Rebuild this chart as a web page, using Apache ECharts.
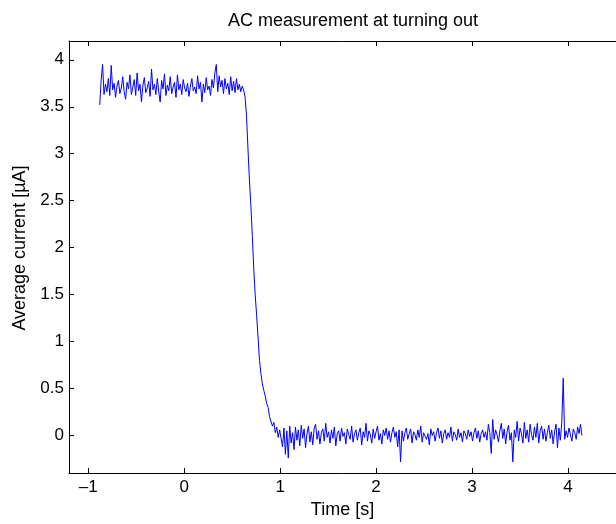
<!DOCTYPE html>
<html>
<head>
<meta charset="utf-8">
<script src="https://cdn.jsdelivr.net/npm/echarts@6/dist/echarts.min.js"></script>
<style>
html,body{margin:0;padding:0;background:#fff;}
#chart{width:616px;height:524px;}
</style>
</head>
<body>
<div id="chart"></div>
<script>
// Sampling of the recorded signal
const T_START = -0.88;   // s, first sample
const T_STEP = 0.015;    // s, sample spacing

// Signal values [µA]
const highLevel = [
  3.52,3.78,3.95,3.63,3.74,3.66,3.80,3.62,3.94,3.68,
  3.75,3.60,3.72,3.78,3.64,3.70,3.82,3.66,3.58,3.76,
  3.69,3.84,3.63,3.71,3.79,3.62,3.86,3.67,3.74,3.55,
  3.73,3.81,3.65,3.70,3.77,3.61,3.90,3.68,3.74,3.63,
  3.80,3.66,3.55,3.78,3.69,3.85,3.62,3.73,3.67,3.82,
  3.64,3.71,3.76,3.60,3.84,3.68,3.74,3.63,3.79,3.70,
  3.66,3.75,3.61,3.72,3.80,3.67,3.71,3.64,3.83,3.69,
  3.76,3.55,3.74,3.65,3.81,3.68,3.72,3.62,3.79,3.70,
  3.86,3.95,3.66,3.83,3.71,3.78,3.64,3.80,3.69,3.75,
  3.63,3.82,3.67,3.77,3.65,3.80,3.68,3.74,3.66,3.72,
  3.68
];
const transition = [
  3.60,3.40,3.05,2.72,2.45,2.13,1.78,1.50,1.28,1.05,
  0.80,0.66,0.55,0.48,0.42,0.34,0.30,0.20,0.22,0.10,
  0.14,0.03,0.09,-0.02,0.06
];
const lowLevel = [
  0.04,-0.12,0.08,-0.20,0.05,-0.24,0.10,-0.08,0.03,-0.15,
  0.09,-0.05,0.06,-0.11,0.11,-0.03,0.07,-0.13,0.02,0.10,
  -0.07,0.04,-0.10,0.08,0.12,-0.04,0.05,-0.09,0.03,0.07,
  -0.06,0.13,-0.02,0.04,-0.08,0.06,-0.03,0.09,-0.11,0.02,
  0.05,-0.06,0.08,-0.01,0.03,-0.09,0.07,0.01,-0.04,0.10,
  -0.07,0.02,0.06,-0.05,0.03,0.08,-0.10,0.04,-0.02,0.13,
  -0.06,0.05,0.01,-0.08,0.07,-0.03,0.04,0.10,-0.05,0.02,
  -0.09,0.06,0.00,0.08,-0.04,0.05,-0.07,0.03,0.09,-0.02,
  0.04,-0.12,0.06,-0.28,0.05,-0.06,0.03,0.08,-0.04,0.02,
  0.07,-0.08,0.04,0.01,-0.05,0.06,-0.02,0.10,-0.07,0.03,
  0.05,-0.04,0.02,-0.10,0.07,0.00,0.04,-0.06,0.03,0.08,
  -0.03,0.05,-0.08,0.02,0.06,-0.04,0.03,-0.02,0.09,-0.06,
  0.04,0.01,-0.05,0.07,-0.02,0.03,-0.07,0.05,0.02,-0.04,
  0.06,-0.01,0.04,-0.06,0.03,0.08,-0.03,0.05,-0.07,0.02,
  0.06,-0.02,0.04,-0.05,0.12,0.03,-0.19,0.17,-0.04,0.06,
  0.01,-0.07,0.05,0.13,-0.03,0.07,-0.09,0.04,0.11,-0.05,
  0.03,-0.28,0.06,-0.02,0.15,-0.06,0.08,0.02,-0.08,0.14,
  -0.03,0.06,-0.07,0.12,0.01,-0.05,0.09,-0.02,0.13,-0.08,
  0.05,0.10,-0.04,0.07,-0.06,0.03,0.11,-0.03,0.06,-0.09,
  0.04,0.12,-0.13,0.08,-0.05,0.14,0.61,-0.04,0.05,-0.02,
  0.08,0.01,-0.06,0.07,0.03,-0.04,0.09,0.02,0.12,0.00
];

// Axis ticks
const xTicks = [-1, 0, 1, 2, 3, 4];
const yTicks = [0, 0.5, 1, 1.5, 2, 2.5, 3, 3.5, 4];
const xRange = [-1.2, 4.5];
const yRange = [-0.4, 4.2];

const titleText = 'AC measurement at turning out';
const xName = 'Time [s]';
const yName = 'Average current [µA]';

const values = highLevel.concat(transition, lowLevel);
const seriesData = values.map((v, i) => [+(T_START + i * T_STEP).toFixed(4), v]);

const FONT = '"Liberation Sans", Arial, Helvetica, sans-serif';
const fmt = v => String(v).replace('-', '\u2013');

const chart = echarts.init(document.getElementById('chart'), null, {renderer: 'canvas'});
chart.setOption({
  animation: false,
  backgroundColor: '#ffffff',
  title: {
    text: titleText,
    left: 348,
    textAlign: 'center',
    top: 7,
    textStyle: {fontFamily: FONT, fontSize: 18, fontWeight: 'normal', color: '#000'}
  },
  grid: {left: 69, top: 41, width: 554.4, height: 437, containLabel: false},
  xAxis: [{
    type: 'value', position: 'bottom', min: xRange[0], max: xRange[1],
    name: xName, nameLocation: 'middle', nameGap: 19,
    nameTextStyle: {fontFamily: FONT, fontSize: 18, color: '#000'},
    axisLine: {show: true, onZero: false, lineStyle: {color: '#000', width: 1}},
    axisTick: {show: true, inside: true, length: 5, customValues: xTicks, lineStyle: {color: '#000'}},
    axisLabel: {show: true, customValues: xTicks, formatter: fmt, margin: 6,
      fontFamily: FONT, fontSize: 17, color: '#000'},
    splitLine: {show: false}
  }, {
    type: 'value', position: 'top', min: xRange[0], max: xRange[1],
    axisLine: {show: true, onZero: false, lineStyle: {color: '#000', width: 1}},
    axisTick: {show: true, inside: true, length: 5, customValues: xTicks, lineStyle: {color: '#000'}},
    axisLabel: {show: false},
    splitLine: {show: false}
  }],
  yAxis: [{
    type: 'value', position: 'left', min: yRange[0], max: yRange[1],
    name: yName, nameLocation: 'middle', nameGap: 39,
    nameTextStyle: {fontFamily: FONT, fontSize: 18, color: '#000', padding: [0, 0, 0, 18]},
    axisLine: {show: true, onZero: false, lineStyle: {color: '#000', width: 1}},
    axisTick: {show: true, inside: true, length: 5, customValues: yTicks, lineStyle: {color: '#000'}},
    axisLabel: {show: true, customValues: yTicks, formatter: fmt, margin: 5,
      fontFamily: FONT, fontSize: 17, color: '#000'},
    splitLine: {show: false}
  }],
  series: [{
    type: 'line',
    data: seriesData,
    xAxisIndex: 0, yAxisIndex: 0,
    showSymbol: false, symbol: 'none',
    lineStyle: {color: '#0000ff', width: 1},
    silent: true
  }]
});
</script>
</body>
</html>
